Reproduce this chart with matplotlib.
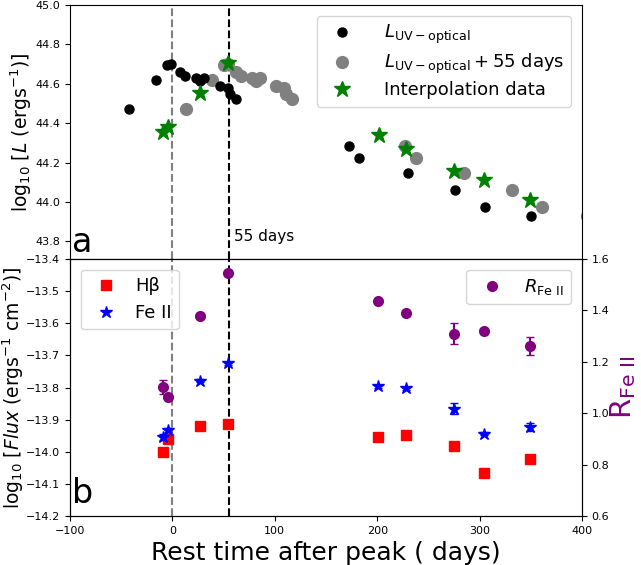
import matplotlib
matplotlib.use("Agg")
import matplotlib.pyplot as plt
from matplotlib.lines import Line2D
import numpy as np

# ---- Data ----
# UV-optical luminosity (panel a)
t_lum = [-42, -16, -5, -1, 7, 12, 23, 27, 30.5, 46, 54, 56, 62,
         172, 182.5, 229.7, 276.3, 305.7, 350.3]
log_lum = [44.473, 44.620, 44.697, 44.700, 44.660, 44.640, 44.629, 44.615, 44.629,
           44.590, 44.578, 44.546, 44.523,
           44.286, 44.224, 44.146, 44.058, 43.974, 43.927]
shift_days = 55

# Interpolation data (green stars)
t_interp = [-8.7, -4.5, 27, 54.5, 201.4, 228.5, 274.7, 304, 349]
log_interp = [44.355, 44.379, 44.553, 44.705, 44.338, 44.271, 44.159, 44.109, 44.008]

# Spectral epochs (panel b)
t_spec = [-8.7, -4.5, 27.2, 54.7, 200.8, 228.5, 275.4, 304, 349]
hb_flux = [-14.001, -13.959, -13.921, -13.914, -13.954, -13.948, -13.983, -14.065, -14.023]
hb_err = [0.006, 0.006, 0.006, 0.006, 0.006, 0.006, 0.006, 0.006, 0.006]
fe_flux = [-13.954, -13.933, -13.779, -13.725, -13.796, -13.803, -13.866, -13.944, -13.923]
fe_err = [0.010, 0.006, 0.004, 0.004, 0.004, 0.004, 0.017, 0.004, 0.012]
r_fe = [1.103, 1.064, 1.379, 1.547, 1.436, 1.388, 1.309, 1.318, 1.261]
r_err = [0.027, 0.008, 0.009, 0.008, 0.008, 0.008, 0.041, 0.009, 0.034]

# ---- Figure ----
W, H = 641, 565
fig = plt.figure(figsize=(W / 100, H / 100), dpi=100)

left = 70 / W
width = 512 / W
ax1 = fig.add_axes([left, (H - 259) / H, width, 254 / H])
ax2 = fig.add_axes([left, (H - 516) / H, width, 257 / H])
ax3 = ax2.twinx()

# Panel a
t_shift = [t + shift_days for t in t_lum]
ax1.plot(t_shift, log_lum, 'o', color='gray', ms=8.5, ls='none', zorder=2)
ax1.plot(t_lum, log_lum, 'o', color='black', ms=6.5, ls='none', zorder=3)
ax1.plot(t_interp, log_interp, '*', color='green', ms=12, ls='none', zorder=4)
ax1.axvline(0, color='gray', ls='--', lw=1.5, zorder=1)
ax1.axvline(55, color='black', ls='--', lw=1.5, zorder=1)
ax1.set_xlim(-100, 400)
ax1.set_ylim(43.71, 45.0)
ax1.set_yticks(np.arange(43.8, 45.01, 0.2))
ax1.set_xticks([-100, 0, 100, 200, 300, 400])
ax1.tick_params(labelbottom=False, labelsize=8)
ax1.set_ylabel(r'log$_{10}$ [$L$ (ergs$^{-1}$)]', fontsize=13.5)
ax1.yaxis.set_label_coords(-0.07, 0.5)
ax1.text(-98, 43.745, 'a', fontsize=24, ha='left', va='baseline')
ax1.text(60, 43.80, '55 days', fontsize=11, ha='left', va='baseline')

h1 = [Line2D([], [], marker='o', color='black', ms=6.5, ls='none'),
      Line2D([], [], marker='o', color='gray', ms=8.5, ls='none'),
      Line2D([], [], marker='*', color='green', ms=12, ls='none')]
l1 = [r'$L_{\rm UV-optical}$', r'$L_{\rm UV-optical} + 55$ days', 'Interpolation data']
ax1.legend(h1, l1, loc='upper right', fontsize=13, handletextpad=1.3,
           borderaxespad=0.6, labelspacing=0.3)

# Panel b
ax2.errorbar(t_spec, hb_flux, yerr=hb_err, fmt='s', color='red', ms=6.5, capsize=3, zorder=3)
ax2.errorbar(t_spec, fe_flux, yerr=fe_err, fmt='*', color='blue', ms=9, capsize=3, zorder=3)
ax3.errorbar(t_spec, r_fe, yerr=r_err, fmt='o', color='purple', ms=7, capsize=3, zorder=3)
ax2.axvline(0, color='gray', ls='--', lw=1.5, zorder=1)
ax2.axvline(55, color='black', ls='--', lw=1.5, zorder=1)
ax2.set_xlim(-100, 400)
ax2.set_ylim(-14.2, -13.4)
ax2.set_yticks(np.arange(-14.2, -13.39, 0.1))
ax2.set_xticks([-100, 0, 100, 200, 300, 400])
ax2.tick_params(labelsize=8)
ax3.set_ylim(0.6, 1.6)
ax3.set_yticks(np.arange(0.6, 1.61, 0.2))
ax3.tick_params(labelsize=8)
ax2.set_ylabel(r'log$_{10}$ [$Flux$ (ergs$^{-1}$ cm$^{-2}$)]', fontsize=13.5)
ax2.yaxis.set_label_coords(-0.086, 0.5)
ax3.set_ylabel(r'R$_{\rm Fe\ II}$', fontsize=21, color='purple', labelpad=-1)
ax2.set_xlabel('Rest time after peak ( days)', fontsize=18)
ax2.text(-98, -14.16, 'b', fontsize=24, ha='left', va='baseline')

h2 = [Line2D([], [], marker='s', color='red', ms=6.5, ls='none'),
      Line2D([], [], marker='*', color='blue', ms=9, ls='none')]
ax2.legend(h2, ['Hβ', 'Fe II'], loc='upper left', fontsize=13,
           handletextpad=0.6, borderaxespad=0.6)
h3 = [Line2D([], [], marker='o', color='purple', ms=7, ls='none')]
ax3.legend(h3, [r'$R_{\rm Fe\ II}$'], loc='upper right', fontsize=13,
           handletextpad=0.8, borderaxespad=0.6)

fig.savefig('out.png', dpi=100)
